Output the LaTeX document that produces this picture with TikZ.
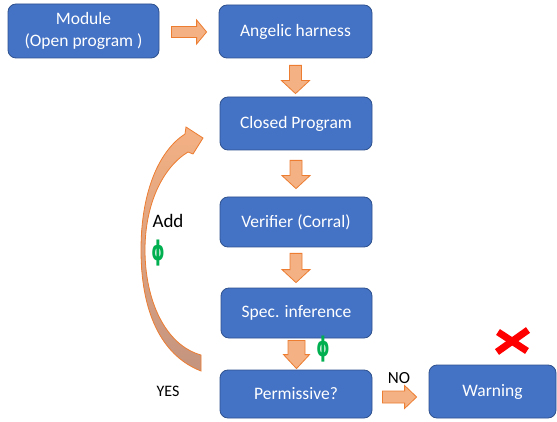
\documentclass[tikz,border=0pt]{standalone}
\usepackage{fontspec}
\setmainfont{Carlito}
\newfontfamily\phifont{DejaVu Sans}
\usetikzlibrary{calc}
\definecolor{boxblue}{HTML}{4472C4}
\definecolor{boxedge}{HTML}{2F528F}
\definecolor{arrfill}{HTML}{F4B183}
\definecolor{arredge}{HTML}{ED7D31}
\definecolor{phigreen}{HTML}{00B050}
\definecolor{curvebot}{HTML}{C4947F}
\tikzset{
  box/.style={rectangle, rounded corners=8pt, fill=boxblue, draw=boxedge, line width=0.8pt,
    text=white, font=\fontsize{17.5}{22}\selectfont, align=center, inner sep=0pt},
  blockarrow/.style={fill=arrfill, draw=arredge, line width=0.8pt, line join=miter},
  lbl/.style={text=black, inner sep=0pt},
  phisym/.style={text=phigreen, inner sep=0pt, font=\phifont\bfseries\fontsize{27}{30}\selectfont},
}
\newcommand\phiglyph{\scalebox{0.62}[1]{ϕ}}
% vertical block arrow: from, to, gap1, gap2, shaft half width, head half width, head length
\newcommand\vblock[7]{%
  \path[blockarrow] let \p1=($(#1.south)+(0,#3)$), \p2=($(#2.north)-(0,#4)$) in
    (\x1-#5pt,\y1) -- (\x1+#5pt,\y1) -- (\x1+#5pt,\y2+#7pt) -- (\x1+#6pt,\y2+#7pt)
    -- (\x1,\y2) -- (\x1-#6pt,\y2+#7pt) -- (\x1-#5pt,\y2+#7pt) -- cycle;}
% horizontal block arrow: from, to, gap1, gap2, shaft half height, head half height, head length, y offset
\newcommand\hblock[8]{%
  \path[blockarrow] let \p1=($(#1.east)+(#3,#8)$), \p2=($(#2.west)-(#4,0)$) in
    (\x1,\y1+#5pt) -- (\x2-#7pt,\y1+#5pt) -- (\x2-#7pt,\y1+#6pt) -- (\x2,\y1)
    -- (\x2-#7pt,\y1-#6pt) -- (\x2-#7pt,\y1-#5pt) -- (\x1,\y1-#5pt) -- cycle;}
\begin{document}
\begin{tikzpicture}[x=1pt, y=-1pt]
\useasboundingbox (0,0) rectangle (557,422);
\fill[white] (0,0) rectangle (557,422);

\node[box, minimum width=151pt, minimum height=54pt] (module) at (83.5,31) {Module\\(Open program )};
\node[box, minimum width=153pt, minimum height=53pt] (angelic) at (295.5,31.5) {Angelic harness};
\node[box, minimum width=152pt, minimum height=53pt] (closed) at (296,123.5) {Closed Program};
\node[box, minimum width=152pt, minimum height=50pt] (verifier) at (296,222) {Verifier (Corral)};
\node[box, minimum width=151pt, minimum height=50pt] (spec) at (296.5,313) {Spec. inference};
\node[box, minimum width=152pt, minimum height=48pt] (perm) at (296,394) {Permissive?};
\node[box, minimum width=127pt, minimum height=53pt] (warning) at (492.5,391.5) {Warning};

\hblock{module}{angelic}{12}{12}{5.5}{12}{10}{1}
\vblock{angelic}{closed}{7}{3}{6}{14}{13}
\vblock{closed}{verifier}{10}{8}{6}{14}{13}
\vblock{verifier}{spec}{6}{5}{6}{14}{13}
\vblock{spec}{perm}{2}{1}{8.5}{13}{14}
\hblock{perm}{warning}{10}{12}{6}{11.5}{12}{3}

% curved feedback arrow
\path[draw=arredge, line width=0.8pt, line join=miter, top color=arrfill, bottom color=curvebot]
  (201,371) .. controls (160,355) and (141,310) .. (141,250)
  .. controls (141,190) and (160,150) .. (185,134)
  -- (186,127) -- (203,138) -- (193,154) -- (188,152)
  .. controls (162,168) and (145,205) .. (145,250)
  .. controls (145,300) and (165,345) .. (201,355) -- cycle;

\node[lbl, font=\fontsize{19}{22}\selectfont] (add) at (168,221) {Add};
\node[phisym] (phi1) at (158,253) {\phiglyph};
\node[lbl, font=\fontsize{16}{19}\selectfont] (yes) at (168,391) {YES};
\node[lbl, font=\fontsize{17}{20}\selectfont] (no) at (399,378) {NO};
\node[phisym] (phi2) at (323,349) {\phiglyph};

% red cross
\draw[red, line width=7pt] (498,332) -- (527,351);
\draw[red, line width=7pt] (528,330) -- (497,352);
\end{tikzpicture}
\end{document}
